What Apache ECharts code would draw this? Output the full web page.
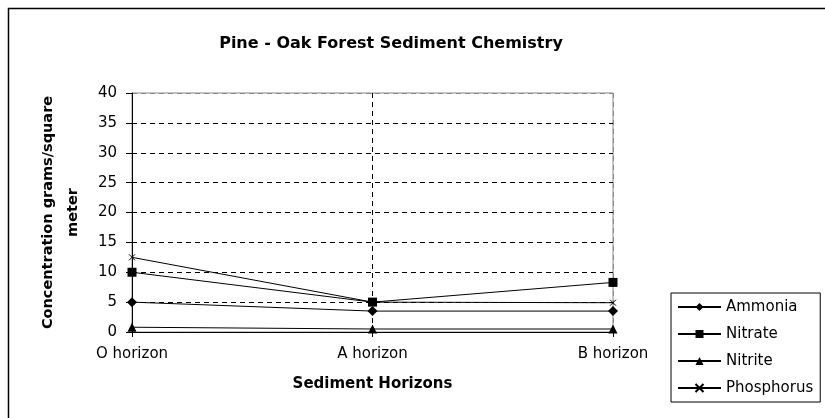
<!DOCTYPE html>
<html>
<head>
<meta charset="utf-8">
<script src="https://cdn.jsdelivr.net/npm/echarts@6/dist/echarts.min.js"></script>
<style>
  html, body { margin: 0; padding: 0; background: #fff; }
  #main { width: 825px; height: 418px; }
</style>
</head>
<body>
<div id="main"></div>
<script>
// 数据
const horizons = ['O horizon', 'A horizon', 'B horizon']
const ammonia = [5, 3.5, 3.5]
const nitrate = [10, 5, 8.3]
const nitrite = [0.8, 0.5, 0.5]
const phosphorus = [12.5, 5, 4.9]

const font = 'DejaVu Sans, Verdana, sans-serif'
const crossPath = 'path://M0,0L10,10M10,0L0,10'

function makeSeries(name, data, symbol, size) {
  return {
    name: name,
    type: 'line',
    data: data,
    symbol: symbol,
    symbolSize: size,
    showAllSymbol: true,
    lineStyle: { color: '#000', width: 1 },
    itemStyle: { color: '#000', borderColor: '#000', borderWidth: symbol === crossPath ? 1 : 0 },
    emphasis: { disabled: true },
    animation: false
  }
}

var myChart = echarts.init(document.getElementById('main'))
var option = {
  backgroundColor: '#fff',
  textStyle: { fontFamily: font },
  title: {
    text: 'Pine - Oak Forest Sediment Chemistry',
    left: 386,
    textAlign: 'center',
    top: 31,
    textStyle: { fontSize: 16, fontWeight: 'bold', color: '#000', fontFamily: font }
  },
  graphic: [{
    type: 'rect',
    shape: { x: 8.5, y: 8.5, width: 830, height: 420 },
    style: { fill: 'none', stroke: '#000', lineWidth: 1.5 },
    z: 100
  }],
  legend: {
    orient: 'vertical',
    left: 671,
    top: 293,
    itemGap: 9,
    itemWidth: 43,
    itemHeight: 10,
    padding: [5, 7, 5, 6],
    borderColor: '#000',
    borderWidth: 1,
    textStyle: { fontSize: 15, lineHeight: 18, color: '#000', fontFamily: font },
    data: ['Ammonia', 'Nitrate', 'Nitrite', 'Phosphorus']
  },
  grid: {
    left: 132,
    right: 212,
    top: 93,
    bottom: 86,
    show: true,
    borderColor: '#888',
    borderWidth: 1
  },
  xAxis: {
    type: 'category',
    data: horizons,
    boundaryGap: false,
    name: 'Sediment Horizons',
    nameLocation: 'middle',
    nameGap: 45,
    nameTextStyle: { fontSize: 15, fontWeight: 'bold', color: '#000' },
    axisLine: { lineStyle: { color: '#000', width: 1 } },
    axisTick: { show: true, length: 5, lineStyle: { color: '#000' } },
    axisLabel: { fontSize: 15, color: '#000', margin: 15 },
    splitLine: { show: true, lineStyle: { color: ['#000', '#000', '#888'], type: [5, 4] } }
  },
  yAxis: {
    type: 'value',
    min: 0,
    max: 40,
    interval: 5,
    name: 'Concentration grams/square\nmeter',
    nameLocation: 'middle',
    nameGap: 46,
    nameRotate: 90,
    nameTextStyle: { fontSize: 14.5, fontWeight: 'bold', color: '#000', lineHeight: 25 },
    axisLine: { show: true, lineStyle: { color: '#000', width: 1 } },
    axisTick: { show: true, length: 6, lineStyle: { color: '#000' } },
    axisLabel: { fontSize: 15, color: '#000', margin: 15 },
    splitLine: {
      show: true,
      lineStyle: { color: ['#000', '#000', '#000', '#000', '#000', '#000', '#000', '#000', '#888'], type: [5, 4] }
    }
  },
  series: [
    makeSeries('Ammonia', ammonia, 'diamond', 10),
    makeSeries('Nitrate', nitrate, 'rect', 9),
    makeSeries('Nitrite', nitrite, 'triangle', 9),
    makeSeries('Phosphorus', phosphorus, crossPath, 6)
  ]
}

option && myChart.setOption(option)
</script>
</body>
</html>
